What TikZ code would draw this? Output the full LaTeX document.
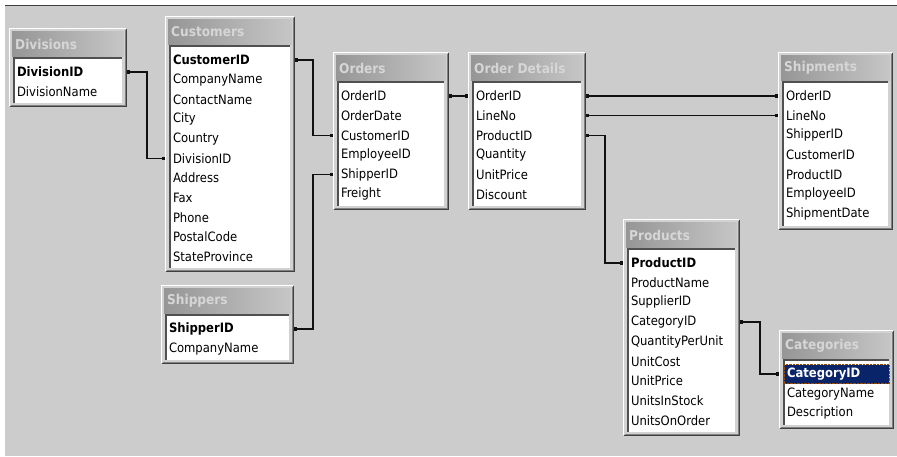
\documentclass[tikz,border=0pt]{standalone}
\usepackage{fontspec}
\setmainfont{DejaVu Sans Condensed}
\usetikzlibrary{arrows.meta}

\definecolor{bggrey}{HTML}{CCCCCC}
\definecolor{framegrey}{HTML}{D2D2D2}
\definecolor{frameedge}{HTML}{404040}
\definecolor{frameshade}{HTML}{808080}
\definecolor{titledark}{HTML}{969696}
\definecolor{titlelight}{HTML}{C6C6C6}
\definecolor{titlecol}{HTML}{D6D6D6}
\definecolor{listedge}{HTML}{505050}
\definecolor{selnavy}{HTML}{0A246A}
\definecolor{linecol}{HTML}{111111}

\newcommand{\fieldfont}{\fontsize{12.9}{15}\selectfont}
\newcommand{\titlefont}{\fontsize{13.5}{16}\selectfont\bfseries}

\tikzset{
  tabframe/.style={fill=framegrey, inner sep=0pt, outer sep=0pt},
  titlebar/.style={left color=titledark, right color=titlelight},
  titletext/.style={font=\titlefont, text=titlecol, inner sep=0pt},
  field/.style={font=\fieldfont, align=left, inner xsep=3pt, inner ysep=0pt,
    minimum height=19pt, outer sep=0pt},
  fnorm/.style={},
  fkey/.style={font=\fieldfont\bfseries},
  fsel/.style={font=\fieldfont\bfseries, fill=selnavy, text=white,
    draw=orange!60!black, densely dotted},
  rel/.style={draw=linecol, line width=1.3pt,
    {Square[length=3pt,width=3.5pt]}-{Square[length=3pt,width=3.5pt]}}
}

% #1 name, #2 title, #3 left, #4 top, #5 width, #6 rows, #7 fields
\newcommand{\dbtable}[7]{%
  \pgfmathsetmacro\tabh{40+#6*19.65}%
  \pgfmathsetmacro\tabr{#3+#5}%
  \pgfmathsetmacro\tabb{#4+\tabh}%
  \pgfmathsetmacro\fw{#5-16}%
  \node[tabframe, minimum width=#5pt, minimum height=\tabh pt, anchor=north west] (#1) at (#3,#4) {};
  \draw[white, line width=1pt] (#3+0.5,\tabb-1) |- (\tabr-1,#4+0.5);
  \draw[frameedge, line width=1pt] (#3+0.5,\tabb-0.5) -| (\tabr-0.5,#4+0.5);
  \draw[frameshade, line width=1pt] (#3+1.5,\tabb-1.5) -| (\tabr-1.5,#4+1.5);
  \fill[titlebar] (#3+3,#4+3) rectangle (\tabr-3,#4+28);
  \node[titletext, anchor=west] at (#3+6,#4+16) {#2};
  \fill[white] (#3+4,#4+29) rectangle (\tabr-5,\tabb-4);
  \draw[listedge, line width=1.5pt] (#3+4.75,\tabb-4) |- (\tabr-5,#4+29.75);
  \foreach \f/\s [count=\i] in {#7}{
    \pgfmathsetmacro\rowy{#4+44+(\i-1)*19.65}
    \node[field, \s, text width=\fw pt, anchor=west] (#1-\i) at (#3+5,\rowy) {\f};
  }%
}

\begin{document}
\begin{tikzpicture}[x=1pt,y=-1pt]
  \useasboundingbox (0,0) rectangle (897,456);
  \fill[white] (0,0) rectangle (897,456);
  \fill[bggrey] (5,5) rectangle (897,456);
  \draw[frameedge, line width=1.2pt] (5,5.6) -- (897,5.6);

  % tables
  \dbtable{div}{Divisions}{9}{28}{118}{2}{DivisionID/fkey,DivisionName/fnorm}
  \dbtable{cust}{Customers}{165}{16}{130}{11}{CustomerID/fkey,CompanyName/fnorm,ContactName/fnorm,City/fnorm,Country/fnorm,DivisionID/fnorm,Address/fnorm,Fax/fnorm,Phone/fnorm,PostalCode/fnorm,StateProvince/fnorm}
  \dbtable{shpr}{Shippers}{161}{285}{133}{2}{ShipperID/fkey,CompanyName/fnorm}
  \dbtable{ord}{Orders}{333}{52}{116}{6}{OrderID/fnorm,OrderDate/fnorm,CustomerID/fnorm,EmployeeID/fnorm,ShipperID/fnorm,Freight/fnorm}
  \dbtable{odet}{Order Details}{468}{52}{118}{6}{OrderID/fnorm,LineNo/fnorm,ProductID/fnorm,Quantity/fnorm,UnitPrice/fnorm,Discount/fnorm}
  \dbtable{shpm}{Shipments}{778}{52}{115}{7}{OrderID/fnorm,LineNo/fnorm,ShipperID/fnorm,CustomerID/fnorm,ProductID/fnorm,EmployeeID/fnorm,ShipmentDate/fnorm}
  \dbtable{prod}{Products}{623}{219}{117}{9}{ProductID/fkey,ProductName/fnorm,SupplierID/fnorm,CategoryID/fnorm,QuantityPerUnit/fnorm,UnitCost/fnorm,UnitPrice/fnorm,UnitsInStock/fnorm,UnitsOnOrder/fnorm}
  \dbtable{cat}{Categories}{779}{330}{115}{3}{CategoryID/fsel,CategoryName/fnorm,Description/fnorm}

  % relationships
  \draw[rel] (div-1 -| div.east) -- ++(20,0) |- (cust-6 -| cust.west);
  \draw[rel] (cust-1 -| cust.east) -- ++(18,0) |- (ord-3 -| ord.west);
  \draw[rel] (shpr-1 -| shpr.east) -- ++(19,0) |- (ord-5 -| ord.west);
  \draw[rel] (ord-1 -| ord.east) -- (odet-1 -| odet.west);
  \draw[rel] (odet-1 -| odet.east) -- (shpm-1 -| shpm.west);
  \draw[rel] (odet-2 -| odet.east) -- (shpm-2 -| shpm.west);
  \draw[rel] (odet-3 -| odet.east) -- ++(19,0) |- (prod-1 -| prod.west);
  \draw[rel] (prod-4 -| prod.east) -- ++(20,0) |- (cat-1 -| cat.west);
\end{tikzpicture}
\end{document}
